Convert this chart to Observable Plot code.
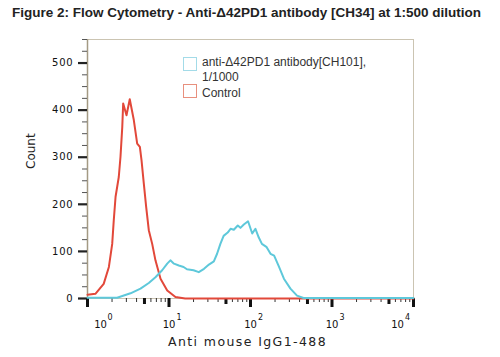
<!DOCTYPE html>
<html>
<head>
<meta charset="utf-8">
<script src="https://cdn.jsdelivr.net/npm/d3@7"></script>
<script src="https://cdn.jsdelivr.net/npm/@observablehq/plot@0.6"></script>
<style>
  html, body { margin: 0; padding: 0; background: #fff; }
  #wrap { position: relative; width: 500px; height: 357px; overflow: hidden; }
  #title { position: absolute; left: 12px; top: 5px; font: bold 13.5px "Liberation Sans", Arial, sans-serif; line-height: 16px; color: #222; white-space: nowrap; }
  #chart { position: absolute; left: 0; top: 28px; }
  .lg-box { position: absolute; width: 14px; height: 14px; box-sizing: border-box; background: #fff; }
  .lg-txt { position: absolute; left: 202px; font: 12px "Liberation Sans", Arial, sans-serif; line-height: 15px; color: #333; white-space: nowrap; }
</style>
</head>
<body>
<div id="wrap">
  <div id="title">Figure 2: Flow Cytometry - Anti-Δ42PD1 antibody [CH34] at 1:500 dilution</div>
  <div id="chart"></div>
  <div class="lg-box" style="left:183px; top:57px; border:1.5px solid #a3dbe8;"></div>
  <div class="lg-txt" style="top:55px;">anti-Δ42PD1 antibody[CH101],<br>1/1000</div>
  <div class="lg-box" style="left:183px; top:84px; border:1.5px solid #e8907e;"></div>
  <div class="lg-txt" style="top:85.5px;">Control</div>
</div>
<script>
// Control (red) histogram: fluorescence intensity, count
const controlX = [1, 1.25, 1.58, 1.83, 2.01, 2.10, 2.21, 2.42, 2.54, 2.67, 2.74, 3.01, 3.30, 3.70, 4.07, 4.39, 4.60, 4.91, 5.25, 5.65, 6.22, 6.82, 7.87, 9.51, 12.0, 15.8, 10000];
const controlY = [8, 10, 31, 67, 116, 166, 216, 258, 301, 364, 414, 389, 423, 379, 329, 322, 294, 244, 194, 145, 116, 81, 42, 17, 3, 0, 0];
// anti-Δ42PD1 antibody [CH101] 1/1000 (cyan) histogram
const antibodyX = [1, 2.31, 3.37, 4.47, 5.65, 6.82, 8.24, 9.51, 10.4, 11.5, 13.2, 15.1, 16.6, 20.0, 23.2, 26.9, 30.9, 35.5, 38.9, 42.7, 46.8, 52.5, 56.9, 62.4, 69.8, 75.3, 82.8, 93.3, 105, 115, 126, 138, 158, 176, 195, 224, 257, 309, 372, 447, 10000];
const antibodyY = [1.5, 1.5, 11, 21, 33, 45, 60, 74, 81, 74, 70, 67, 62, 60, 56, 63, 72, 79, 95, 116, 133, 140, 148, 146, 155, 150, 157, 164, 138, 148, 130, 116, 109, 95, 91, 67, 42, 21, 6, 1, 1];

const yMajor = [0, 100, 200, 300, 400, 500];
const yMinor = [25, 50, 75, 125, 150, 175, 225, 250, 275, 325, 350, 375, 425, 450, 475, 525, 550];
const xDecades = [1, 10, 100, 1000, 10000];
const xExponents = ["0", "1", "2", "3", "4"];
const xFives = [5, 50, 500, 5000];
const xMinor = [2, 3, 4, 6, 7, 8, 9, 20, 30, 40, 60, 70, 80, 90, 200, 300, 400, 600, 700, 800, 900, 2000, 3000, 4000, 6000, 7000, 8000, 9000];
const yLabel = "Count";
const xLabel = "Anti mouse IgG1-488";

const control = controlX.map((x, i) => ({x, y: controlY[i]}));
const antibody = antibodyX.map((x, i) => ({x, y: antibodyY[i]}));
const decadeLabels = xDecades.map((v, i) => ({v, e: xExponents[i]}));

const font = "DejaVu Sans, sans-serif";
const inner = decadeLabels.slice(1, 4);
const first = decadeLabels.slice(0, 1);
const last = decadeLabels.slice(4);

const chart = Plot.plot({
  width: 500,
  height: 329,
  marginLeft: 87,
  marginRight: 87,
  marginTop: 11,
  marginBottom: 59,
  style: {fontFamily: font, color: "#222", background: "transparent"},
  x: {type: "log", domain: [1, 10000], axis: null},
  y: {domain: [0, 550], axis: null},
  marks: [
    Plot.frame({stroke: "#cbc4b2"}),
    Plot.ruleX([1], {stroke: "#a49a84", strokeWidth: 1.5}),
    Plot.axisY(yMajor, {tickSize: 9, strokeWidth: 2.2, stroke: "#222", tickPadding: 5, fontSize: 10, fill: "#111", label: null, tickFormat: d => String(d)}),
    Plot.axisY(yMinor, {tickSize: 5, strokeWidth: 1, stroke: "#555", label: null, tickFormat: () => ""}),
    Plot.axisX(xDecades, {tickSize: 9, strokeWidth: 3, stroke: "#111", label: null, tickFormat: () => ""}),
    Plot.axisX(xFives, {tickSize: 6, strokeWidth: 3, stroke: "#111", label: null, tickFormat: () => ""}),
    Plot.axisX(xMinor, {tickSize: 4, strokeWidth: 1, stroke: "#333", label: null, tickFormat: () => ""}),
    Plot.line(control, {x: "x", y: "y", stroke: "#e2483a", strokeWidth: 2, curve: "linear"}),
    Plot.line(antibody, {x: "x", y: "y", stroke: "#5ec8da", strokeWidth: 2, curve: "linear"}),
    // decade tick labels "10" with superscript exponent
    Plot.text(inner, {x: "v", y: 0, text: () => "10", dy: 26, fontSize: 10, fill: "#111"}),
    Plot.text(inner, {x: "v", y: 0, text: "e", dy: 19, dx: 10, fontSize: 8, fill: "#111"}),
    Plot.text(first, {x: "v", y: 0, text: () => "10", dy: 26, dx: 13, fontSize: 10, fill: "#111"}),
    Plot.text(first, {x: "v", y: 0, text: "e", dy: 19, dx: 23, fontSize: 8, fill: "#111"}),
    Plot.text(last, {x: "v", y: 0, text: () => "10", dy: 26, dx: -16, fontSize: 10, fill: "#111"}),
    Plot.text(last, {x: "v", y: 0, text: "e", dy: 19, dx: -6, fontSize: 8, fill: "#111"}),
    Plot.text([xLabel], {frameAnchor: "bottom", text: d => d, dy: 47, dx: -3, fontSize: 12.5, fill: "#222"}),
    Plot.text([yLabel], {frameAnchor: "left", text: d => d, rotate: -90, dx: -56, fontSize: 12, fill: "#222"})
  ]
});
document.getElementById("chart").appendChild(chart);
// wide lettering as in the reference raster
chart.querySelectorAll("text").forEach(t => {
  const s = t.textContent;
  if (s === xLabel) t.setAttribute("letter-spacing", "1.4");
  if (yMajor.map(String).includes(s)) t.setAttribute("letter-spacing", "0.8");
});
</script>
</body>
</html>
